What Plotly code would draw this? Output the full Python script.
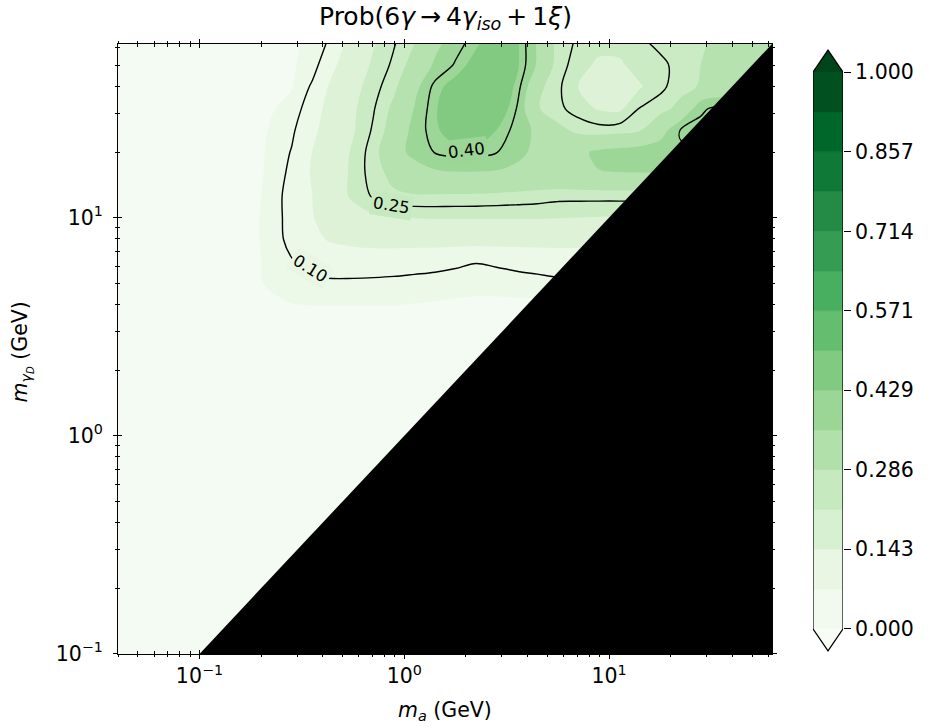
import math
import plotly.graph_objects as go

# ---- scan grid (log10 of the masses in GeV) ----
LOG_MA = [-1.4, -1.0, -0.7, -0.55, -0.45, -0.35, -0.25, -0.15, -0.05, 0.05, 0.15,
          0.25, 0.35, 0.45, 0.55, 0.65, 0.75, 0.85, 0.95, 1.05, 1.15, 1.25, 1.35,
          1.45, 1.55, 1.65, 1.8]
LOG_MGD = [1.8, 1.7, 1.6, 1.5, 1.4, 1.3, 1.2, 1.1, 1.0, 0.9, 0.8, 0.7, 0.6, 0.5,
           0.3, 0.0, -0.5, -1.0]

# probability per grid point, one list per m_gammaD row (top row first)
P_18 = [0.010, 0.037, 0.056, 0.066, 0.078, 0.110, 0.165, 0.210, 0.247, 0.285, 0.343, 0.382, 0.420, 0.463, 0.437, 0.350, 0.268, 0.244, 0.230, 0.227, 0.244, 0.257, 0.270, 0.284, 0.290, 0.300, 0.310]
P_17 = [0.010, 0.037, 0.057, 0.067, 0.086, 0.133, 0.180, 0.223, 0.258, 0.307, 0.365, 0.405, 0.450, 0.475, 0.437, 0.350, 0.267, 0.232, 0.205, 0.208, 0.230, 0.243, 0.260, 0.286, 0.295, 0.305, 0.315]
P_16 = [0.010, 0.038, 0.059, 0.069, 0.105, 0.154, 0.198, 0.235, 0.276, 0.339, 0.413, 0.450, 0.485, 0.472, 0.420, 0.300, 0.258, 0.214, 0.195, 0.192, 0.210, 0.240, 0.272, 0.290, 0.310, 0.320, 0.320]
P_15 = [0.010, 0.040, 0.062, 0.082, 0.120, 0.165, 0.207, 0.247, 0.298, 0.360, 0.424, 0.462, 0.490, 0.470, 0.398, 0.290, 0.260, 0.232, 0.210, 0.205, 0.252, 0.270, 0.300, 0.395, 0.410, 0.402, 0.390]
P_14 = [0.010, 0.042, 0.065, 0.094, 0.131, 0.172, 0.210, 0.256, 0.312, 0.375, 0.420, 0.455, 0.465, 0.428, 0.385, 0.345, 0.300, 0.275, 0.265, 0.270, 0.283, 0.330, 0.404, 0.410, 0.405, 0.395, 0.390]
P_13 = [0.010, 0.043, 0.067, 0.102, 0.143, 0.182, 0.221, 0.269, 0.333, 0.374, 0.402, 0.412, 0.412, 0.402, 0.370, 0.345, 0.325, 0.345, 0.368, 0.378, 0.385, 0.392, 0.395, 0.395, 0.390, 0.385, 0.380]
P_12 = [0.010, 0.044, 0.068, 0.108, 0.147, 0.186, 0.224, 0.268, 0.300, 0.325, 0.345, 0.350, 0.350, 0.348, 0.343, 0.338, 0.338, 0.346, 0.354, 0.355, 0.355, 0.355, 0.355, 0.355, 0.355, 0.355, 0.355]
P_11 = [0.010, 0.045, 0.071, 0.113, 0.142, 0.185, 0.224, 0.255, 0.278, 0.282, 0.281, 0.280, 0.279, 0.276, 0.272, 0.268, 0.262, 0.262, 0.262, 0.262, 0.262, 0.262, 0.262, 0.262, 0.262, 0.262, 0.262]
P_10 = [0.010, 0.045, 0.072, 0.112, 0.139, 0.175, 0.190, 0.205, 0.214, 0.216, 0.218, 0.218, 0.218, 0.218, 0.218, 0.218, 0.216, 0.214, 0.212, 0.212, 0.212, 0.212, 0.212, 0.212, 0.212, 0.212, 0.212]
P_09 = [0.010, 0.045, 0.072, 0.110, 0.133, 0.148, 0.155, 0.160, 0.160, 0.160, 0.160, 0.160, 0.160, 0.160, 0.160, 0.160, 0.160, 0.160, 0.160, 0.160, 0.160, 0.160, 0.160, 0.160, 0.160, 0.160, 0.160]
P_08 = [0.010, 0.045, 0.071, 0.098, 0.110, 0.115, 0.118, 0.118, 0.117, 0.115, 0.113, 0.108, 0.102, 0.106, 0.110, 0.113, 0.116, 0.116, 0.116, 0.116, 0.116, 0.116, 0.116, 0.116, 0.116, 0.116, 0.116]
P_07 = [0.010, 0.045, 0.070, 0.090, 0.095, 0.096, 0.095, 0.094, 0.0925, 0.090, 0.087, 0.084, 0.082, 0.084, 0.088, 0.091, 0.094, 0.094, 0.094, 0.094, 0.094, 0.094, 0.094, 0.094, 0.094, 0.094, 0.094]
P_06 = [0.010, 0.040, 0.058, 0.070, 0.072, 0.072, 0.072, 0.072, 0.072, 0.070, 0.068, 0.066, 0.064, 0.063, 0.063, 0.063, 0.063, 0.063, 0.063, 0.063, 0.063, 0.063, 0.063, 0.063, 0.063, 0.063, 0.063]
P_05 = [0.010, 0.035, 0.048, 0.052, 0.052, 0.052, 0.052, 0.052, 0.052, 0.052, 0.051, 0.050, 0.049, 0.048, 0.048, 0.048, 0.048, 0.048, 0.048, 0.048, 0.048, 0.048, 0.048, 0.048, 0.048, 0.048, 0.048]
P_03 = [0.008, 0.025, 0.032, 0.034, 0.034, 0.034, 0.034, 0.034, 0.034, 0.034, 0.034, 0.033, 0.033, 0.033, 0.033, 0.033, 0.033, 0.033, 0.033, 0.033, 0.033, 0.033, 0.033, 0.033, 0.033, 0.033, 0.033]
P_00 = [0.006, 0.015, 0.018, 0.020, 0.020, 0.020, 0.020, 0.020, 0.020, 0.020, 0.020, 0.020, 0.020, 0.020, 0.020, 0.020, 0.020, 0.020, 0.020, 0.020, 0.020, 0.020, 0.020, 0.020, 0.020, 0.020, 0.020]
P_M05 = [0.005, 0.010, 0.012, 0.012, 0.012, 0.012, 0.012, 0.012, 0.012, 0.012, 0.012, 0.012, 0.012, 0.012, 0.012, 0.012, 0.012, 0.012, 0.012, 0.012, 0.012, 0.012, 0.012, 0.012, 0.012, 0.012, 0.012]
P_M10 = [0.004, 0.008, 0.010, 0.010, 0.010, 0.010, 0.010, 0.010, 0.010, 0.010, 0.010, 0.010, 0.010, 0.010, 0.010, 0.010, 0.010, 0.010, 0.010, 0.010, 0.010, 0.010, 0.010, 0.010, 0.010, 0.010, 0.010]

PROB_ROWS = [P_18, P_17, P_16, P_15, P_14, P_13, P_12, P_11, P_10, P_09, P_08,
             P_07, P_06, P_05, P_03, P_00, P_M05, P_M10]

# contour lines drawn on top of the filled bands
LINE_LEVELS = [0.10, 0.25, 0.40]
# inline label spots for those lines: (log10 m_a, log10 m_gammaD, text angle)
LINE_LABEL_POS = [(-0.460, 0.768, 32), (-0.060, 1.057, 9), (0.302, 1.309, -7)]

# filled band edges and colour-bar ticks
N_BANDS = 14
CBAR_TICKS = [0.000, 0.143, 0.286, 0.429, 0.571, 0.714, 0.857, 1.000]

# kinematic limits of the plot (GeV)
MA_MIN, MA_MAX = 0.04, 62.5
MGD_MIN, MGD_MAX = 0.1, 62.5

# ---- matplotlib "Greens" colour map ----
GREENS = [(247, 252, 245), (229, 245, 224), (199, 233, 192), (161, 217, 155),
          (116, 196, 118), (65, 171, 93), (35, 139, 69), (0, 109, 44), (0, 68, 27)]


def greens(t):
    t = min(max(t, 0.0), 1.0) * (len(GREENS) - 1)
    i = min(int(t), len(GREENS) - 2)
    f = t - i
    a, b = GREENS[i], GREENS[i + 1]
    return "rgb(%d,%d,%d)" % tuple(round(a[k] + (b[k] - a[k]) * f) for k in range(3))


levels = [i / N_BANDS for i in range(N_BANDS + 1)]
band_colors = [greens((levels[i] + levels[i + 1]) / 2) for i in range(N_BANDS)]
under_color, over_color = greens(0.0), greens(1.0)


def band_color_at(v):
    i = min(int(v * N_BANDS), N_BANDS - 1)
    return band_colors[i]


# plotly evaluates band i at colourscale fraction (i+1)/(N+1)
ncl = N_BANDS + 1
fill_scale = [[0.0, under_color]]
fill_scale += [[(i + 1) / ncl, band_colors[i]] for i in range(N_BANDS)]
fill_scale += [[1.0, over_color]]

ma = [10 ** v for v in LOG_MA]
mgd = [10 ** v for v in LOG_MGD][::-1]
prob = PROB_ROWS[::-1]

FONT = "DejaVu Sans"
W, H = 931, 740
# layout is planned on a 931 x 727 frame; vertical positions are fractions of it
FH = 727
L, R, T, B = 118, 772, 44, 653
xdom = [L / W, R / W]
ydom = [1 - B / FH, 1 - T / FH]

fig = go.Figure()

fig.add_trace(go.Contour(
    x=ma, y=mgd, z=prob,
    zmin=0, zmax=1,
    colorscale=fill_scale, showscale=False,
    contours=dict(start=0.0, end=1.0, size=1.0 / N_BANDS, coloring="fill",
                  showlines=False),
    line=dict(width=0, smoothing=1.0),
    hoverinfo="skip",
))

fig.add_trace(go.Contour(
    x=ma, y=mgd, z=prob,
    showscale=False,
    contours=dict(start=LINE_LEVELS[0], end=LINE_LEVELS[-1],
                  size=LINE_LEVELS[1] - LINE_LEVELS[0], coloring="none",
                  showlabels=False),
    line=dict(color="black", width=1.4, smoothing=1.0),
    hoverinfo="skip",
))

# region below the diagonal m_gammaD = m_a shaded black
fig.add_trace(go.Scatter(
    x=[MGD_MIN, MA_MAX, MA_MAX, MGD_MIN],
    y=[MGD_MIN, MGD_MIN, MGD_MAX, MGD_MIN],
    mode="lines", fill="toself", fillcolor="black",
    line=dict(color="black", width=0), hoverinfo="skip", showlegend=False,
))

# ---- colour bar drawn on its own axes ----
ext = 0.0396
fig.add_trace(go.Bar(
    x=[0.5] * N_BANDS, y=[levels[i + 1] - levels[i] for i in range(N_BANDS)],
    base=levels[:-1], width=1.0,
    marker=dict(color=band_colors, line=dict(width=0.6, color=band_colors)),
    xaxis="x2", yaxis="y2", hoverinfo="skip", showlegend=False,
))
fig.add_trace(go.Scatter(
    x=[0, 1, 0.5, 0], y=[1, 1, 1 + ext, 1], mode="lines", fill="toself",
    fillcolor=over_color, line=dict(width=0), xaxis="x2", yaxis="y2",
    hoverinfo="skip", showlegend=False,
))
fig.add_trace(go.Scatter(
    x=[0, 1, 0.5, 0], y=[0, 0, -ext, 0], mode="lines", fill="toself",
    fillcolor=under_color, line=dict(width=0), xaxis="x2", yaxis="y2",
    hoverinfo="skip", showlegend=False,
))
fig.add_trace(go.Scatter(
    x=[0, 0.5, 1, 1, 0.5, 0, 0], y=[0, -ext, 0, 1, 1 + ext, 1, 0],
    mode="lines", line=dict(color="black", width=1.2),
    xaxis="x2", yaxis="y2", hoverinfo="skip", showlegend=False,
))

xr = [math.log10(MA_MIN), math.log10(MA_MAX)]
yr = [math.log10(MGD_MIN), math.log10(MGD_MAX)]
minor_vals = [k * 10 ** e for e in range(-2, 3) for k in range(2, 10)]
tick_vals = [0.1, 1, 10]
tick_text = ["10<sup>\u22121</sup>", "10<sup>0</sup>", "10<sup>1</sup>"]
TICK_SIZE = 20.5

axis_common = dict(type="log", showgrid=False, zeroline=False, showline=True,
                   linecolor="black", linewidth=1.3, mirror="ticks",
                   tickvals=tick_vals, tickcolor="black", tickwidth=1.2,
                   tickfont=dict(family=FONT, size=TICK_SIZE, color="black"))


def minor(side):
    return dict(tickvals=minor_vals, ticks=side, ticklen=2.3,
                tickcolor="black", tickwidth=1)


fig.update_layout(
    width=W, height=H, autosize=False,
    margin=dict(l=0, r=0, t=0, b=0, pad=0),
    paper_bgcolor="white", plot_bgcolor="white",
    showlegend=False, hovermode=False, barmode="overlay",
    xaxis=dict(domain=xdom, range=xr, anchor="y", ticks="outside", ticklen=3.8,
               ticktext=tick_text, minor=minor("outside"), **axis_common),
    yaxis=dict(domain=ydom, range=yr, anchor="x", ticks="outside", ticklen=3.8,
               ticktext=tick_text, minor=minor("outside"), ticklabelstandoff=6,
               **axis_common),
    xaxis3=dict(domain=xdom, range=xr, anchor="y3", overlaying="x", ticks="inside",
                ticklen=3.8, showticklabels=False, minor=minor("inside"),
                **axis_common),
    yaxis3=dict(domain=ydom, range=yr, anchor="x3", overlaying="y", ticks="inside",
                ticklen=3.8, showticklabels=False, minor=minor("inside"),
                **axis_common),
    xaxis2=dict(domain=[813 / W, 843 / W], range=[0, 1], anchor="y2",
                visible=False, fixedrange=True),
    yaxis2=dict(domain=ydom, range=[-0.045, 1.0504], anchor="x2", side="right",
                showgrid=False, zeroline=False, showline=False,
                tickvals=CBAR_TICKS, ticktext=["%.3f" % v for v in CBAR_TICKS],
                ticks="outside", ticklen=7, tickwidth=1.2, tickcolor="black",
                tickfont=dict(family=FONT, size=TICK_SIZE, color="black")),
)

# invisible point so the overlaid tick axes get drawn
fig.add_trace(go.Scatter(x=[1], y=[1], xaxis="x3", yaxis="y3", mode="markers",
                         marker=dict(opacity=0), hoverinfo="skip", showlegend=False))

# inline contour labels (background matches the band they sit in)
for lvl, (lx, ly, ang) in zip(LINE_LEVELS, LINE_LABEL_POS):
    fig.add_annotation(x=lx, y=ly, xref="x", yref="y", text="%.2f" % lvl,
                       showarrow=False, textangle=ang,
                       font=dict(family=FONT, size=16.5, color="black"),
                       bgcolor=band_color_at(lvl), borderpad=2)

cx = (xdom[0] + xdom[1]) / 2
fig.add_annotation(x=cx, y=1 - 18 / FH, xref="paper", yref="paper",
                   text="Prob(6<i>\u03b3</i>\u2009\u2192\u20094<i>\u03b3</i><sub><i>iso</i></sub>\u2009+\u20091<i>\u03be</i>)",
                   showarrow=False, font=dict(family=FONT, size=25, color="black"),
                   xanchor="center", yanchor="middle")
fig.add_annotation(x=cx, y=1 - 710 / FH, xref="paper", yref="paper",
                   text="<i>m</i><sub><i>a</i></sub> (GeV)",
                   showarrow=False, font=dict(family=FONT, size=20.5, color="black"),
                   xanchor="center", yanchor="middle")
fig.add_annotation(x=22 / W, y=1 - 352 / FH, xref="paper", yref="paper",
                   text="<i>m</i><sub><i>\u03b3<sub>D</sub></i></sub> (GeV)",
                   textangle=-90,
                   showarrow=False, font=dict(family=FONT, size=20.5, color="black"),
                   xanchor="center", yanchor="middle")

fig.write_html("out.html")
